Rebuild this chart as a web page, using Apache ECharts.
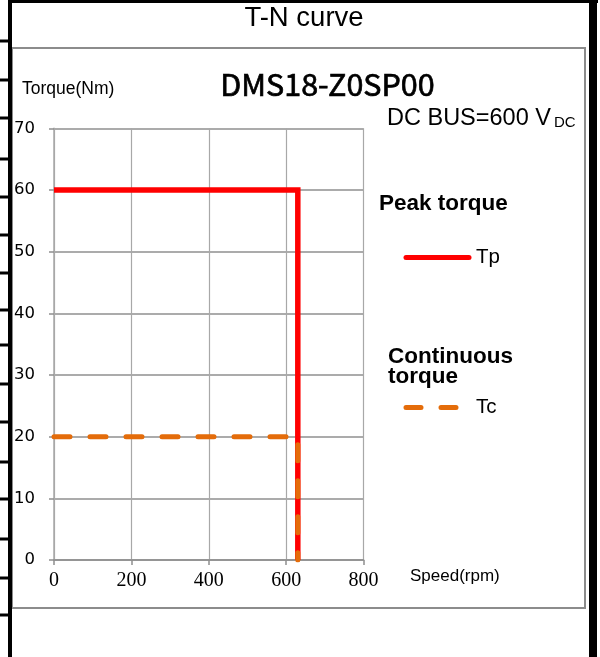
<!DOCTYPE html>
<html>
<head>
<meta charset="utf-8">
<script src="https://cdn.jsdelivr.net/npm/echarts@6/dist/echarts.min.js"></script>
<style>
html,body{margin:0;padding:0;background:#fff;overflow:hidden;}
#chart{width:600px;height:657px;}
</style>
</head>
<body>
<div id="chart"></div>
<script>
// ---- data ----
var seriesNames = ['Tp', 'Tc'];
var peakTorque = [[0, 60], [630, 60], [630, 0]];
var contTorque = [[0, 20], [630, 20], [630, 0]];
var xTicks = [0, 200, 400, 600, 800];
var yTicks = [0, 10, 20, 30, 40, 50, 60, 70];
var chartTitle = 'T-N curve';
var modelName = 'DMS18-Z0SP00';
var yName = 'Torque(Nm)';
var xName = 'Speed(rpm)';
var busText = 'DC BUS=600 V';
var busSub = 'DC';
var peakLabel = 'Peak torque';
var contLabel = 'Continuous\ntorque';

// decorative table border ticks on the far left
var leftTickYs = [41, 80, 118, 159, 197, 235, 273, 310, 345, 384, 422, 462, 499, 539, 578, 615];

var chart = echarts.init(document.getElementById('chart'), null, {renderer: 'canvas'});

var SANS = 'Liberation Sans, Arial, sans-serif';
var gridColor = '#8f8f8f';
var RED = '#ff0000';
var ORANGE = '#e46c0a';

var graphics = [];
function box(x, y, w, h, fill) {
  return {type: 'rect', shape: {x: x, y: y, width: w, height: h}, style: {fill: fill}, z: 10, silent: true};
}
graphics.push(box(8, 0, 4, 657, '#000'));
graphics.push(box(8, 0, 590, 3, '#000'));
graphics.push(box(589, 0, 8, 657, '#000'));
leftTickYs.forEach(function (y) {
  graphics.push(box(0, y - 1.5, 9, 3, '#000'));
});
graphics.push({type: 'rect', shape: {x: 12, y: 48, width: 573, height: 560},
  style: {fill: 'none', stroke: '#8c8c8c', lineWidth: 2}, z: 0, silent: true});

function txt(text, x, y, size, opts) {
  opts = opts || {};
  var st = {
    text: text, fill: '#000', fontSize: size,
    fontFamily: opts.family || SANS,
    fontWeight: opts.weight || 'normal',
    textAlign: opts.align || 'left', textVerticalAlign: 'middle',
    lineHeight: opts.lineHeight
  };
  if (opts.strokeW) { st.stroke = '#000'; st.lineWidth = opts.strokeW; }
  return {type: 'text', x: x, y: y, z: 5, silent: true, style: st};
}
graphics.push(txt(chartTitle, 304, 18, 27.5, {align: 'center'}));
graphics.push(txt(modelName, 327.5, 84, 30.5, {align: 'center', strokeW: 0.7, family: 'Noto Sans CJK TC, Noto Sans, sans-serif'}));
graphics.push(txt(yName, 22, 89, 17.5));
graphics.push(txt(xName, 410, 576, 17));
graphics.push(txt(peakLabel, 379, 204, 22.5, {weight: 'bold'}));
graphics.push(txt(contLabel, 388, 367, 22.5, {weight: 'bold', lineHeight: 20}));
graphics.push({
  type: 'text', x: 387, y: 119, z: 5, silent: true,
  style: {
    text: '{a|' + busText + '}{b|' + busSub + '}',
    textVerticalAlign: 'middle',
    rich: {
      a: {fontSize: 23.5, fontFamily: SANS, fill: '#000', color: '#000'},
      b: {fontSize: 15, fontFamily: SANS, fill: '#000', color: '#000', padding: [7, 0, 0, 3]}
    }
  }
});
// legend samples
graphics.push({type: 'line', shape: {x1: 406, y1: 257.5, x2: 469, y2: 257.5}, z: 5, silent: true,
  style: {stroke: RED, lineWidth: 5, lineCap: 'round'}});
graphics.push(txt(seriesNames[0], 476, 257.5, 20.5));
graphics.push({type: 'line', shape: {x1: 406, y1: 407.5, x2: 458, y2: 407.5}, z: 5, silent: true,
  style: {stroke: ORANGE, lineWidth: 5, lineCap: 'round', lineDash: [15, 20]}});
graphics.push(txt(seriesNames[1], 476, 407.5, 20.5));

var option = {
  backgroundColor: '#fff',
  animation: false,
  grid: {left: 54, right: 236.4, top: 128.3, bottom: 97, containLabel: false},
  xAxis: {
    type: 'value', min: xTicks[0], max: xTicks[xTicks.length - 1], interval: 200,
    axisLine: {show: true, lineStyle: {color: gridColor, width: 1.5}},
    axisTick: {show: true, length: 5, lineStyle: {color: gridColor, width: 1.5}},
    axisLabel: {fontFamily: 'Liberation Serif, serif', fontSize: 20, color: '#000', margin: 11},
    splitLine: {show: true, lineStyle: {color: '#a8a8a8', width: 1.2}}
  },
  yAxis: {
    type: 'value', min: yTicks[0], max: yTicks[yTicks.length - 1], interval: 10,
    axisLine: {show: true, lineStyle: {color: '#a8a8a8', width: 1.5}},
    axisTick: {show: true, length: 5, lineStyle: {color: gridColor, width: 1.5}},
    axisLabel: {fontFamily: 'DejaVu Sans, sans-serif', fontSize: 16.5, color: '#000', margin: 19},
    splitLine: {show: true, lineStyle: {color: gridColor, width: 1.5}}
  },
  series: [
    {
      name: seriesNames[0], type: 'line', data: peakTorque, symbol: 'none',
      lineStyle: {color: RED, width: 5.5, cap: 'butt', join: 'miter'},
      itemStyle: {color: RED}, z: 3
    },
    {
      name: seriesNames[1], type: 'line', data: contTorque, symbol: 'none',
      lineStyle: {color: ORANGE, width: 5, type: [16, 20], cap: 'round'},
      itemStyle: {color: ORANGE}, z: 4
    }
  ],
  graphic: graphics
};
chart.setOption(option);
</script>
</body>
</html>
